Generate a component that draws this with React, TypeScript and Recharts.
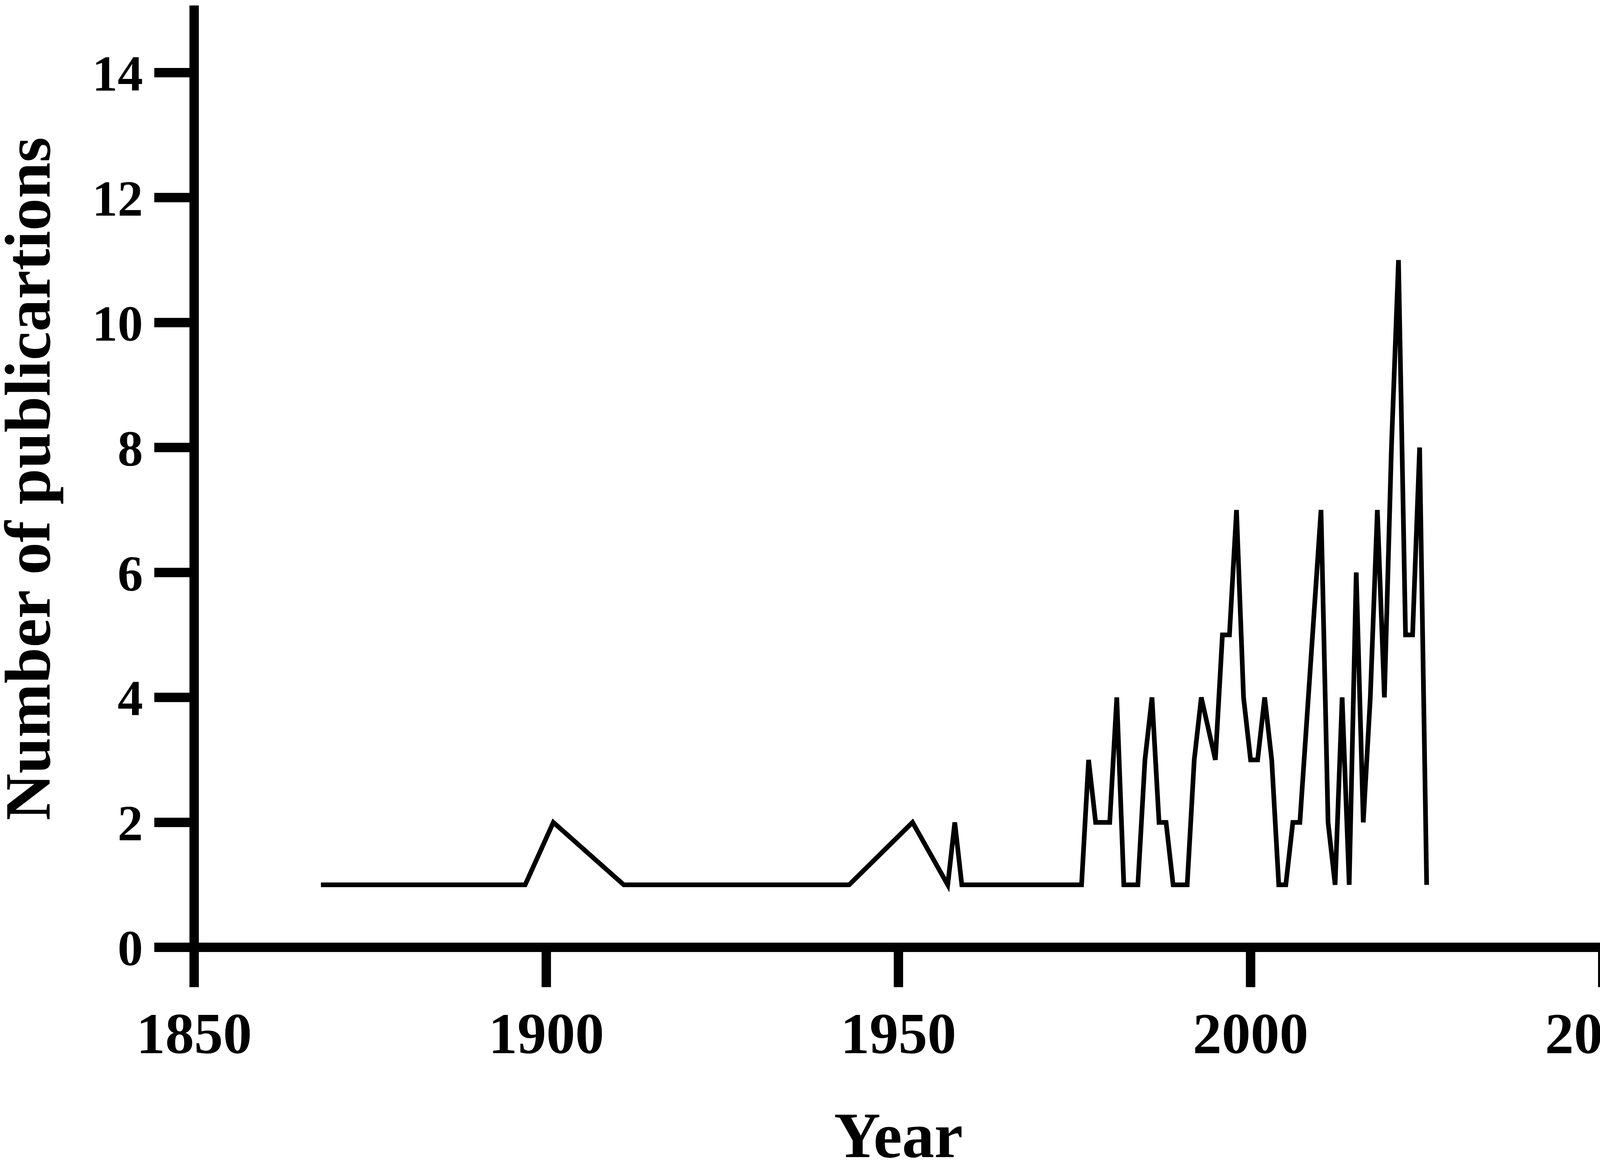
import { LineChart, Line, XAxis, YAxis, Label } from 'recharts';

// years with at least one publication, and the count for that year
const years = [
  1868, 1897, 1901, 1911, 1943, 1952, 1957, 1958, 1959, 1976, 1977, 1978, 1980, 1981, 1982,
  1984, 1985, 1986, 1987, 1988, 1989, 1991, 1992, 1993, 1995, 1996, 1997, 1998, 1999, 2000,
  2001, 2002, 2003, 2004, 2005, 2006, 2007, 2010, 2011, 2012, 2013, 2014, 2015, 2016, 2017,
  2018, 2019, 2020, 2021, 2022, 2023, 2024, 2025,
];
const counts = [
  1, 1, 2, 1, 1, 2, 1, 2, 1, 1, 3, 2, 2, 4, 1,
  1, 3, 4, 2, 2, 1, 1, 3, 4, 3, 5, 5, 7, 4, 3,
  3, 4, 3, 1, 1, 2, 2, 7, 2, 1, 4, 1, 6, 2, 4,
  7, 4, 8, 11, 5, 5, 8, 1,
];
const xTicks = [1850, 1900, 1950, 2000, 2050];
const yTicks = [0, 2, 4, 6, 8, 10, 12, 14];

const data = years.map((year, i) => ({ year, count: counts[i] }));

const FONT = '"Liberation Serif", "Times New Roman", serif';
const W = 4262;
const H = 2972;

export default function App() {
  return (
    <div style={{ position: 'absolute', left: 0, top: 0, width: W, height: H, background: '#fff' }}>
      <LineChart width={W} height={H} data={data} margin={{ top: 26, right: 159, left: 197, bottom: 0 }}>
        <XAxis
          type="number"
          dataKey="year"
          domain={[1850, 2050]}
          ticks={xTicks}
          height={547}
          tickSize={102}
          tickMargin={64}
          axisLine={{ stroke: '#000', strokeWidth: 24, strokeLinecap: 'square' }}
          tickLine={{ stroke: '#000', strokeWidth: 24 }}
          tick={{ fontSize: 148, fontWeight: 700, fontFamily: FONT, fill: '#000' }}
        >
          <Label
            content={({ viewBox }: any) => (
              <text
                x={viewBox.x + viewBox.width / 2}
                y={2962}
                textAnchor="middle"
                fontSize={165}
                fontWeight={700}
                fontFamily={FONT}
                fill="#000"
              >
                Year
              </text>
            )}
          />
        </XAxis>
        <YAxis
          type="number"
          domain={[0, 15]}
          ticks={yTicks}
          width={300}
          tickSize={102}
          tickMargin={29}
          axisLine={{ stroke: '#000', strokeWidth: 24, strokeLinecap: 'square' }}
          tickLine={{ stroke: '#000', strokeWidth: 24 }}
          tick={{ fontSize: 130, fontWeight: 700, fontFamily: FONT, fill: '#000' }}
        >
          <Label
            content={({ viewBox }: any) => {
              const cy = viewBox.y + viewBox.height / 2;
              return (
                <text
                  x={127}
                  y={cy}
                  transform={`rotate(-90, 127, ${cy})`}
                  textAnchor="middle"
                  fontSize={166}
                  fontWeight={700}
                  fontFamily={FONT}
                  fill="#000"
                >
                  Number of publicartions
                </text>
              );
            }}
          />
        </YAxis>
        <Line
          type="linear"
          dataKey="count"
          stroke="#000"
          strokeWidth={12}
          dot={false}
          activeDot={false}
          isAnimationActive={false}
        />
      </LineChart>
    </div>
  );
}
